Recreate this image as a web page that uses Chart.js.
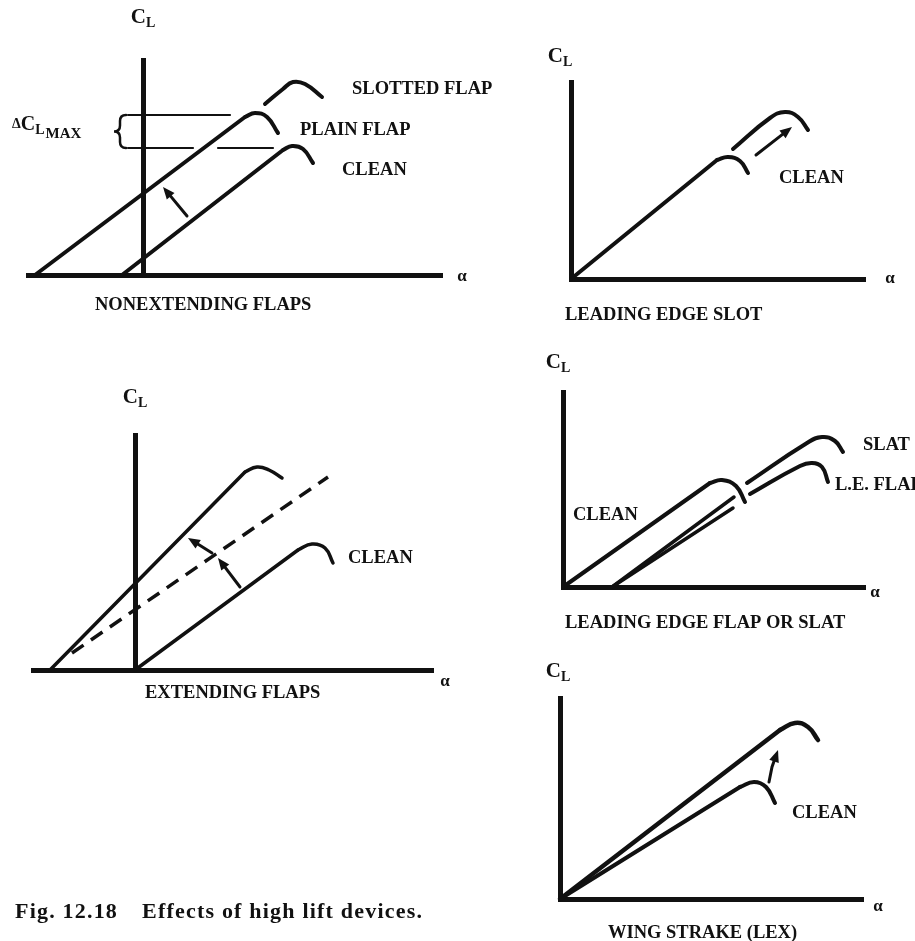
<!DOCTYPE html>
<html>
<head>
<meta charset="utf-8">
<script src="https://cdn.jsdelivr.net/npm/chart.js@4.4.1/dist/chart.umd.min.js"></script>
<style>
  body { margin: 0; background: #fff; width: 915px; height: 941px; position: relative; overflow: hidden; }
  canvas { position: absolute; left: 0; top: 0; }
  #caption { position: absolute; left: 15px; top: 900px; font: bold 22px "Liberation Serif", serif;
             letter-spacing: 1.2px; line-height: 22px; white-space: nowrap; color: #111; }
  #caption span + span { margin-left: 24px; }
</style>
</head>
<body>
<canvas id="nonextending" width="915" height="941"></canvas>
<canvas id="slot" width="915" height="941"></canvas>
<canvas id="extending" width="915" height="941"></canvas>
<canvas id="leflap" width="915" height="941"></canvas>
<canvas id="strake" width="915" height="941"></canvas>
<div id="caption"><span>Fig. 12.18</span><span>Effects of high lift devices.</span></div>

<script>
// Werte: alpha (x) und C_L (y)

// --- NONEXTENDING FLAPS ---
const nfCleanLine  = [[-2.1, 0], [14.0, 1.25]];
const nfCleanStall = [[14.0, 1.25], [14.9, 1.29], [16.0, 1.26], [17.0, 1.12]];
const nfPlainLine  = [[-10.8, 0], [10.2, 1.58]];
const nfPlainStall = [[10.2, 1.58], [11.2, 1.62], [12.4, 1.58], [13.5, 1.42]];
const nfSlotted    = [[12.2, 1.71], [14.0, 1.86], [15.0, 1.93], [16.2, 1.91], [17.9, 1.78]];
const nfMaxUpper   = [[-1.5, 1.60], [8.7, 1.60]];
const nfMaxLowerA  = [[-1.5, 1.27], [5.0, 1.27]];
const nfMaxLowerB  = [[7.5, 1.27], [13.0, 1.27]];
const nfArrow      = [[4.4, 0.59], [2.0, 0.88]];
const nfBrace      = [-2.3, 1.27, 1.60];
const nfLabels     = [["SLOTTED FLAP", 20.9, 1.86], ["PLAIN FLAP", 15.7, 1.45], ["CLEAN", 19.9, 1.05]];
const nfDelta      = [-13.1, 1.50];
const nfTitle      = ["NONEXTENDING FLAPS", -4.8, -0.30];
const nfAxisLabels = { cl: [0, 2.57], alpha: [31.9, -0.02] };
const nfRange      = { alpha: [-11.5, 29.9], cl: [0, 2.15] };

// --- LEADING EDGE SLOT ---
const lsCleanLine  = [[0, 0], [14.6, 1.19]];
const lsCleanStall = [[14.6, 1.19], [15.7, 1.22], [16.9, 1.18], [17.7, 1.06]];
const lsSlot       = [[16.2, 1.30], [19.9, 1.61], [21.4, 1.67], [22.7, 1.62], [23.7, 1.49]];
const lsArrow      = [[18.5, 1.24], [22.1, 1.52]];
const lsLabels     = [["CLEAN", 20.8, 1.01]];
const lsTitle      = ["LEADING EDGE SLOT", -0.6, -0.36];
const lsAxisLabels = { cl: [-1.1, 2.22], alpha: [31.9, 0] };
const lsRange      = { alpha: [0, 29.4], cl: [0, 1.97] };

// --- EXTENDING FLAPS ---
const efCleanLine  = [[0, 0], [16.3, 1.20]];
const efCleanStall = [[16.3, 1.20], [17.7, 1.26], [19.0, 1.22], [19.8, 1.07]];
const efFlapLine   = [[-8.5, 0], [11.0, 1.98]];
const efFlapStall  = [[11.0, 1.98], [12.2, 2.03], [13.4, 2.00], [14.7, 1.92]];
const efDashed     = [[-6.3, 0.17], [19.3, 1.93]];
const efArrowA     = [[10.5, 0.83], [8.3, 1.12]];
const efArrowB     = [[7.7, 1.17], [5.3, 1.32]];
const efLabels     = [["CLEAN", 21.3, 1.12]];
const efTitle      = ["EXTENDING FLAPS", 1.0, -0.23];
const efAxisLabels = { cl: [0, 2.72], alpha: [31.0, -0.12] };
const efRange      = { alpha: [-10.2, 29.8], cl: [0, 2.35] };

// --- LEADING EDGE FLAP OR SLAT ---
const lfCleanLine  = [[0, 0], [14.7, 1.04]];
const lfCleanStall = [[14.7, 1.04], [15.9, 1.07], [17.3, 1.01], [18.2, 0.85]];
const lfSlatLower  = [[4.9, 0], [17.1, 0.90]];
const lfFlapLower  = [[4.9, 0], [17.0, 0.79]];
const lfSlat       = [[18.4, 1.04], [24.4, 1.44], [25.9, 1.50], [27.2, 1.46], [28.0, 1.35]];
const lfFlap       = [[18.7, 0.93], [23.7, 1.21], [24.9, 1.24], [25.9, 1.20], [26.5, 1.05]];
const lfLabels     = [["CLEAN", 1.0, 0.72], ["SLAT", 30.0, 1.42], ["L.E. FLAP", 27.2, 1.02]];
const lfTitle      = ["LEADING EDGE FLAP OR SLAT", 0.2, -0.36];
const lfAxisLabels = { cl: [-0.5, 2.24], alpha: [31.2, -0.06] };
const lfRange      = { alpha: [0, 30.2], cl: [0, 1.95] };

// --- WING STRAKE (LEX) ---
const wsCleanLine  = [[0, 0], [18.0, 1.12]];
const wsCleanStall = [[18.0, 1.12], [19.4, 1.17], [20.6, 1.12], [21.5, 0.96]];
const wsLexLine    = [[0, 0], [22.0, 1.69]];
const wsLexStall   = [[22.0, 1.69], [23.5, 1.76], [24.8, 1.72], [25.8, 1.59]];
const wsArrow      = [[20.9, 1.17], [21.2, 1.32], [21.8, 1.49]];
const wsLabels     = [["CLEAN", 23.2, 0.86]];
const wsTitle      = ["WING STRAKE (LEX)", 4.8, -0.34];
const wsAxisLabels = { cl: [-0.2, 2.27], alpha: [31.8, -0.08] };
const wsRange      = { alpha: [0, 30.3], cl: [0, 2.01] };

// ----------------------------------------------------------
// Layout / Stil
// ----------------------------------------------------------
const PAGE_W = 915, PAGE_H = 941;
const INK = "#111";
const SERIF = "'Liberation Serif', 'Times New Roman', serif";

// Plotbereich (Achsenkreuz) jeder Teilgrafik in Seitenpixeln
const frames = {
  nonextending: { left: 28, top: 60, right: 442, bottom: 275 },
  slot:         { left: 571, top: 82, right: 865, bottom: 279 },
  extending:    { left: 33, top: 435, right: 433, bottom: 670 },
  leflap:       { left: 563, top: 392, right: 865, bottom: 587 },
  strake:       { left: 560, top: 698, right: 863, bottom: 899 },
};

function curve(points, width, extra) {
  return Object.assign({
    data: points.map(([x, y]) => ({ x, y })),
    borderColor: INK,
    borderWidth: width,
    pointRadius: 0,
    fill: false,
    clip: false,
    tension: 0,
    borderCapStyle: "round",
    borderJoinStyle: "round",
  }, extra || {});
}
// Abriss-Bogen (Stall) glatt zeichnen
const stall = (points, width) => curve(points, width, { tension: 0.45 });

// ----------------------------------------------------------
// Plugin: Beschriftungen, Pfeile, Klammer
// ----------------------------------------------------------
function drawArrow(ctx, pts) {
  const n = pts.length;
  const [tx, ty] = pts[n - 1];
  const [bx, by] = pts[n - 2];
  const len = Math.hypot(tx - bx, ty - by);
  const ux = (tx - bx) / len, uy = (ty - by) / len;
  const head = 12, half = 5;
  ctx.lineWidth = 3;
  ctx.lineCap = "round";
  ctx.beginPath();
  ctx.moveTo(pts[0][0], pts[0][1]);
  for (let i = 1; i < n - 1; i++) ctx.lineTo(pts[i][0], pts[i][1]);
  ctx.lineTo(tx - ux * head * 0.8, ty - uy * head * 0.8);
  ctx.stroke();
  ctx.beginPath();
  ctx.moveTo(tx, ty);
  ctx.lineTo(tx - ux * head - uy * half, ty - uy * head + ux * half);
  ctx.lineTo(tx - ux * head + uy * half, ty - uy * head - ux * half);
  ctx.closePath();
  ctx.fill();
}

function drawBrace(ctx, x, top, bot) {
  const w = 6, mid = (top + bot) / 2;
  ctx.lineWidth = 2.5;
  ctx.beginPath();
  ctx.moveTo(x + w, top);
  ctx.quadraticCurveTo(x, top, x, top + w);
  ctx.lineTo(x, mid - w);
  ctx.quadraticCurveTo(x, mid, x - w, mid);
  ctx.quadraticCurveTo(x, mid, x, mid + w);
  ctx.lineTo(x, bot - w);
  ctx.quadraticCurveTo(x, bot, x + w, bot);
  ctx.stroke();
}

const sketchNotes = {
  id: "sketchNotes",
  afterDatasetsDraw(chart, args, opts) {
    const ctx = chart.ctx;
    const px = (a) => chart.scales.x.getPixelForValue(a);
    const py = (c) => chart.scales.y.getPixelForValue(c);
    ctx.save();
    ctx.fillStyle = INK;
    ctx.strokeStyle = INK;

    (opts.arrows || []).forEach((a) => drawArrow(ctx, a.map(([x, y]) => [px(x), py(y)])));
    if (opts.brace) drawBrace(ctx, px(opts.brace[0]), py(opts.brace[2]), py(opts.brace[1]));

    ctx.textBaseline = "middle";
    ctx.textAlign = "left";
    ctx.font = "bold 18.5px " + SERIF;
    (opts.labels || []).forEach(([t, x, y]) => ctx.fillText(t, px(x), py(y)));

    if (opts.title) {
      ctx.font = "bold 18.5px " + SERIF;
      ctx.fillText(opts.title[0], px(opts.title[1]), py(opts.title[2]));
    }

    // C_L ueber der Hochachse
    const [cx, cy] = [px(opts.axis.cl[0]), py(opts.axis.cl[1])];
    ctx.font = "bold 21px " + SERIF;
    const wC = ctx.measureText("C").width;
    ctx.font = "bold 14px " + SERIF;
    const wL = ctx.measureText("L").width;
    const x0 = cx - (wC + wL) / 2;
    ctx.font = "bold 21px " + SERIF;
    ctx.fillText("C", x0, cy);
    ctx.font = "bold 14px " + SERIF;
    ctx.fillText("L", x0 + wC, cy + 5);

    // alpha an der Rechtsachse
    ctx.textAlign = "center";
    ctx.font = "bold 17px " + SERIF;
    ctx.fillText("\u03b1", px(opts.axis.alpha[0]), py(opts.axis.alpha[1]));

    // Delta C_L MAX
    if (opts.delta) {
      ctx.textAlign = "left";
      let x = px(opts.delta[0]);
      const y = py(opts.delta[1]);
      ctx.font = "bold 14px " + SERIF;
      ctx.fillText("\u0394", x, y - 1);
      x += ctx.measureText("\u0394").width;
      ctx.font = "bold 20px " + SERIF;
      ctx.fillText("C", x, y);
      x += ctx.measureText("C").width;
      ctx.font = "bold 14px " + SERIF;
      ctx.fillText("L", x, y + 5);
      x += ctx.measureText("L").width + 1;
      ctx.font = "bold 15px " + SERIF;
      ctx.fillText("MAX", x, y + 9);
    }
    ctx.restore();
  },
};

function makeChart(id, range, datasets, notes) {
  const f = frames[id];
  const axis = (min, max, extra) => Object.assign({
    type: "linear",
    min, max,
    grid: { display: false, drawTicks: false },
    ticks: { display: false },
    border: { display: true, color: INK, width: 5 },
  }, extra || {});
  return new Chart(document.getElementById(id), {
    type: "line",
    data: { datasets },
    options: {
      responsive: false,
      animation: false,
      devicePixelRatio: 1,
      events: [],
      layout: { padding: { left: f.left, top: f.top, right: PAGE_W - f.right, bottom: PAGE_H - f.bottom } },
      plugins: { legend: { display: false }, tooltip: { enabled: false }, sketchNotes: notes },
      scales: {
        x: axis(range.alpha[0], range.alpha[1], { position: "bottom" }),
        y: axis(range.cl[0], range.cl[1], { position: { x: 0 } }),
      },
    },
    plugins: [sketchNotes],
  });
}

// ----------------------------------------------------------
// Die fuenf Teilgrafiken
// ----------------------------------------------------------
makeChart("nonextending", nfRange, [
  curve(nfCleanLine, 4), stall(nfCleanStall, 4),
  curve(nfPlainLine, 4), stall(nfPlainStall, 4),
  stall(nfSlotted, 4),
  curve(nfMaxUpper, 2.2), curve(nfMaxLowerA, 2.2), curve(nfMaxLowerB, 2.2),
], { labels: nfLabels, title: nfTitle, axis: nfAxisLabels, arrows: [nfArrow], brace: nfBrace, delta: nfDelta });

makeChart("slot", lsRange, [
  curve(lsCleanLine, 4), stall(lsCleanStall, 4), stall(lsSlot, 4),
], { labels: lsLabels, title: lsTitle, axis: lsAxisLabels, arrows: [lsArrow] });

makeChart("extending", efRange, [
  curve(efCleanLine, 3.5), stall(efCleanStall, 3.5),
  curve(efFlapLine, 3.5), stall(efFlapStall, 3.5),
  curve(efDashed, 3.5, { borderDash: [14, 9], borderCapStyle: "butt" }),
], { labels: efLabels, title: efTitle, axis: efAxisLabels, arrows: [efArrowA, efArrowB] });

makeChart("leflap", lfRange, [
  curve(lfCleanLine, 4), stall(lfCleanStall, 4),
  curve(lfSlatLower, 3.5), curve(lfFlapLower, 3.5),
  stall(lfSlat, 4), stall(lfFlap, 4),
], { labels: lfLabels, title: lfTitle, axis: lfAxisLabels });

makeChart("strake", wsRange, [
  curve(wsCleanLine, 4), stall(wsCleanStall, 4),
  curve(wsLexLine, 4.5), stall(wsLexStall, 4.5),
], { labels: wsLabels, title: wsTitle, axis: wsAxisLabels, arrows: [wsArrow] });
</script>
</body>
</html>
